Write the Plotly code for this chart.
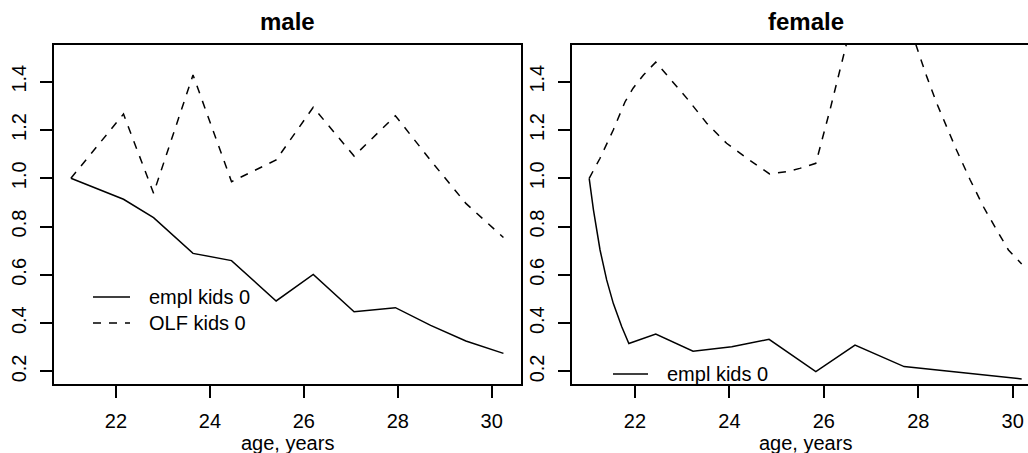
import plotly.graph_objects as go

# ---- data ----
male_age = [21.04, 22.16, 22.80, 23.64, 24.46, 25.41, 26.20, 27.07, 27.95, 28.70, 29.45, 30.25]
male_empl = [1.0, 0.913, 0.837, 0.689, 0.659, 0.492, 0.602, 0.447, 0.464, 0.391, 0.326, 0.275]
male_olf = [1.0, 1.266, 0.938, 1.428, 0.986, 1.076, 1.294, 1.092, 1.259, 1.074, 0.896, 0.755]

female_empl_age = [21.03, 21.12, 21.26, 21.40, 21.54, 21.72, 21.87, 22.44, 23.23, 24.05,
                   24.84, 25.83, 26.66, 27.70, 30.19]
female_empl = [1.0, 0.869, 0.703, 0.579, 0.482, 0.385, 0.316, 0.355, 0.284, 0.302,
               0.333, 0.199, 0.309, 0.220, 0.169]
female_olf_age = [21.03, 21.26, 21.54, 21.79, 21.96, 22.18, 22.44, 22.67, 23.10, 23.52,
                  23.94, 24.37, 24.85, 25.21, 25.49, 25.83, 26.13, 26.45, 26.66, 27.10,
                  27.70, 28.00, 28.18, 28.39, 28.60, 28.81, 29.10, 29.38, 29.66, 29.91, 30.19]
female_olf = [1.0, 1.083, 1.20, 1.317, 1.373, 1.428, 1.481, 1.428, 1.331, 1.228,
              1.145, 1.083, 1.018, 1.027, 1.041, 1.062, 1.283, 1.534, 1.70, 1.80,
              1.70, 1.524, 1.421, 1.311, 1.214, 1.117, 0.993, 0.882, 0.786, 0.703, 0.645]

panel_titles = ["male", "female"]
x_title = "age, years"
x_ticks = [22, 24, 26, 28, 30]
y_ticks = [0.2, 0.4, 0.6, 0.8, 1.0, 1.2, 1.4]
y_ticktext = ["0.2", "0.4", "0.6", "0.8", "1.0", "1.2", "1.4"]
legend_male = ["empl kids 0", "OLF kids 0"]
legend_female = ["empl kids 0"]

# ---- geometry ----
W, H = 1028, 453
FONT = "Liberation Sans, Arial, Helvetica, sans-serif"
LW = 1.5
DASH = "8px,8px"


def px(x):
    return x / W


def py(y):
    return 1 - y / H


fig = go.Figure()
fig.add_trace(go.Scatter(x=male_age, y=male_empl, mode="lines",
                         line=dict(color="black", width=LW), xaxis="x", yaxis="y",
                         showlegend=False))
fig.add_trace(go.Scatter(x=male_age, y=male_olf, mode="lines",
                         line=dict(color="black", width=LW, dash=DASH), xaxis="x", yaxis="y",
                         showlegend=False))
fig.add_trace(go.Scatter(x=female_empl_age, y=female_empl, mode="lines",
                         line=dict(color="black", width=LW), xaxis="x2", yaxis="y2",
                         showlegend=False))
fig.add_trace(go.Scatter(x=female_olf_age, y=female_olf, mode="lines",
                         line=dict(color="black", width=LW, dash=DASH), xaxis="x2", yaxis="y2",
                         showlegend=False))

ydom = [py(384), py(45)]
common_x = dict(tickvals=x_ticks, ticks="outside", ticklen=12, tickwidth=1.5, tickcolor="black",
                showline=True, linecolor="black", linewidth=1.5, showgrid=False, zeroline=False,
                tickfont=dict(family=FONT, size=20, color="black"), ticklabelstandoff=6)
common_y = dict(tickvals=y_ticks, ticktext=y_ticktext, range=[0.148, 1.552], domain=ydom,
                ticks="outside", ticklen=12, tickwidth=1.5, tickcolor="black", tickangle=-90,
                showline=True, linecolor="black", linewidth=1.5, showgrid=False, zeroline=False,
                tickfont=dict(family=FONT, size=20, color="black"), ticklabelstandoff=6)

fig.update_layout(
    width=W, height=H,
    margin=dict(l=0, r=0, t=0, b=0),
    paper_bgcolor="white", plot_bgcolor="white",
    font=dict(family=FONT, size=20, color="black"),
    hovermode=False,
    xaxis=dict(domain=[px(54), px(521)], range=[20.68, 30.624], mirror=True, anchor="y", **common_x),
    yaxis=dict(anchor="x", mirror=True, **common_y),
    xaxis2=dict(domain=[px(572), 1.0], range=[20.666, 30.324], mirror=True, anchor="y2", **common_x),
    yaxis2=dict(anchor="x2", mirror=False, **common_y),
)

# panel titles and axis titles
for cx, t in [((54 + 521) / 2, panel_titles[0]), ((572 + 1039) / 2, panel_titles[1])]:
    fig.add_annotation(x=px(cx), y=py(21), xref="paper", yref="paper", text="<b>%s</b>" % t,
                       showarrow=False, xanchor="center", yanchor="middle",
                       font=dict(family=FONT, size=24, color="black"))
for cx in [(54 + 521) / 2, (572 + 1039) / 2]:
    fig.add_annotation(x=px(cx), y=py(443), xref="paper", yref="paper", text=x_title,
                       showarrow=False, xanchor="center", yanchor="middle",
                       font=dict(family=FONT, size=20, color="black"))

# legends
leg_items = [
    (93, 130, 297, legend_male[0], "solid"),
    (93, 130, 323, legend_male[1], DASH),
    (613, 648, 374, legend_female[0], "solid"),
]
for x0, x1, yy, label, dash in leg_items:
    fig.add_shape(type="line", xref="paper", yref="paper", x0=px(x0), x1=px(x1), y0=py(yy), y1=py(yy),
                  line=dict(color="black", width=LW, dash=dash))
    fig.add_annotation(x=px(x1 + 17), y=py(yy), xref="paper", yref="paper", text=label,
                       showarrow=False, xanchor="left", yanchor="middle",
                       font=dict(family=FONT, size=20, color="black"))

fig.write_html("out.html", config={"displayModeBar": False},
               post_script="document.body.style.margin='0';document.body.style.overflow='hidden';")
